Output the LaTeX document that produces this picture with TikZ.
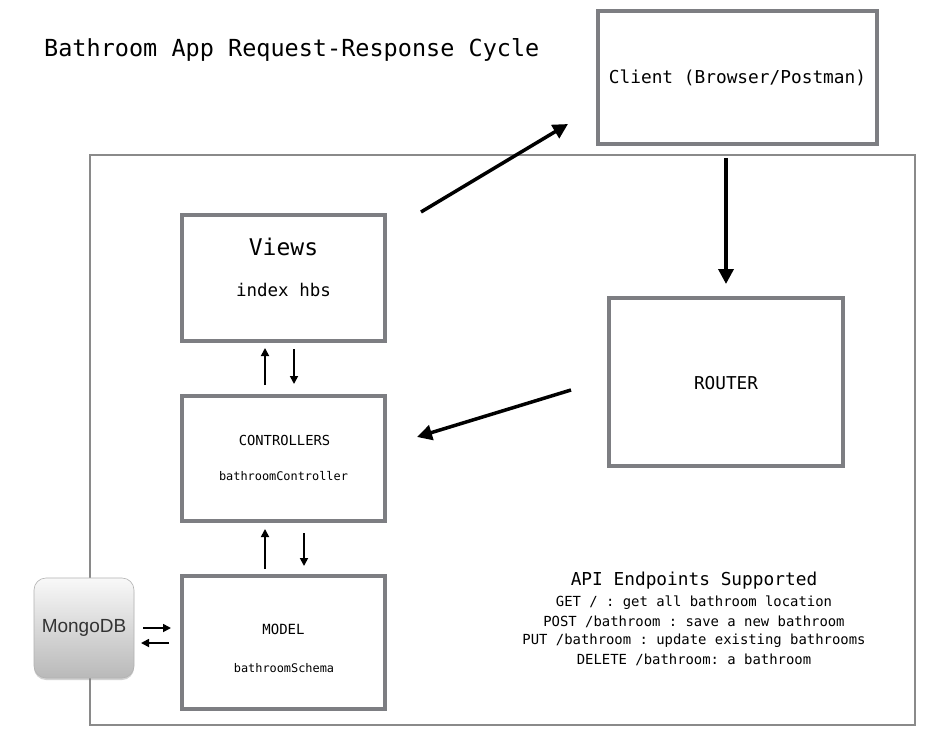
\documentclass[tikz,border=0pt]{standalone}
\usepackage{fontspec}
\setmonofont{DejaVu Sans Mono}
\newfontfamily\mongofont{Liberation Sans}
\usetikzlibrary{arrows.meta,shadows}
\definecolor{boxgray}{HTML}{7D7E82}
\definecolor{framegray}{HTML}{8A8A8A}
\tikzset{
  x=1pt,y=-1pt,
  box/.style={draw=boxgray,line width=4pt,fill=white,inner sep=0pt},
  txt/.style={font=\ttfamily,inner sep=0pt,text=black},
  bigarrow/.style={line width=3.5pt,-{Triangle[length=15pt,width=15pt]}},
  smallarrow/.style={line width=1.7pt,-{Triangle[length=8pt,width=8pt]}},
}
\newcommand{\fs}[1]{\fontsize{#1}{#1}\selectfont}
\begin{document}
\begin{tikzpicture}
\useasboundingbox (0,0) rectangle (951,749);
\fill[white] (0,0) rectangle (951,749);
% outer frame
\draw[framegray,line width=1.5pt] (90,155) rectangle (915,725);
% title
\node[txt,anchor=west] (title) at (44,50) {\fs{23.5}Bathroom App Request-Response Cycle};
% boxes
\draw[box] (598,11) rectangle (877,144);
\node[txt] (client) at (737.5,78) {\fs{17.8}Client (Browser/Postman)};
\draw[box] (182,215) rectangle (385,341);
\node[txt] (viewst) at (283.5,247) {\fs{23}Views};
\node[txt] (views) at (283.5,290) {\fs{17.5}index hbs};
\draw[box] (182,396) rectangle (385,521);
\node[txt] (ctrl) at (284.5,440) {\fs{13.8}CONTROLLERS};
\node[txt] (ctrl2) at (283.5,476) {\fs{11.9}bathroomController};
\draw[box] (182,576) rectangle (385,709);
\node[txt] (model) at (283.5,629) {\fs{14}MODEL};
\node[txt] (model2) at (284,668) {\fs{11.9}bathroomSchema};
\draw[box] (609,298) rectangle (843,466);
\node[txt] (router) at (726,383) {\fs{17.7}ROUTER};
% MongoDB
\node[draw=gray!60,line width=0.6pt,rounded corners=12pt,minimum width=100pt,minimum height=100pt,
  top color=white!95!gray,bottom color=gray!55,
  drop shadow={shadow xshift=0pt,shadow yshift=-2pt,opacity=0.35},
  font=\mongofont\fs{19},text=black!80] (mongo) at (84,628) {MongoDB};
% API text
\node[txt] (api) at (694,581) {\fs{17.8}API Endpoints Supported};
\node[txt] (l1) at (694,603) {\fs{13.9}GET / : get all bathroom location};
\node[txt] (l2) at (694,622) {\fs{13.9}POST /bathroom : save a new bathroom};
\node[txt] (l3) at (694,641) {\fs{13.9}PUT /bathroom : update existing bathrooms};
\node[txt] (l4) at (694,660) {\fs{13.9}DELETE /bathroom: a bathroom};
% coordinates for arrows
\coordinate (a1s) at (421,212); \coordinate (a1e) at (568,124);
\coordinate (a2s) at (726,158); \coordinate (a2e) at (726,284);
\coordinate (a3s) at (571,390); \coordinate (a3e) at (417,437);
\draw[bigarrow] (a1s) -- (a1e);
\draw[bigarrow] (a2s) -- (a2e);
\draw[bigarrow] (a3s) -- (a3e);
\coordinate (b1s) at (265,385); \coordinate (b1e) at (265,348);
\coordinate (b2s) at (294,349); \coordinate (b2e) at (294,384);
\coordinate (c1s) at (265,569); \coordinate (c1e) at (265,529);
\coordinate (c2s) at (304,533); \coordinate (c2e) at (304,566);
\coordinate (d1s) at (143,628); \coordinate (d1e) at (171,628);
\coordinate (d2s) at (169,643); \coordinate (d2e) at (141,643);
\draw[smallarrow] (b1s) -- (b1e);
\draw[smallarrow] (b2s) -- (b2e);
\draw[smallarrow] (c1s) -- (c1e);
\draw[smallarrow] (c2s) -- (c2e);
\draw[smallarrow] (d1s) -- (d1e);
\draw[smallarrow] (d2s) -- (d2e);
\end{tikzpicture}
\end{document}
